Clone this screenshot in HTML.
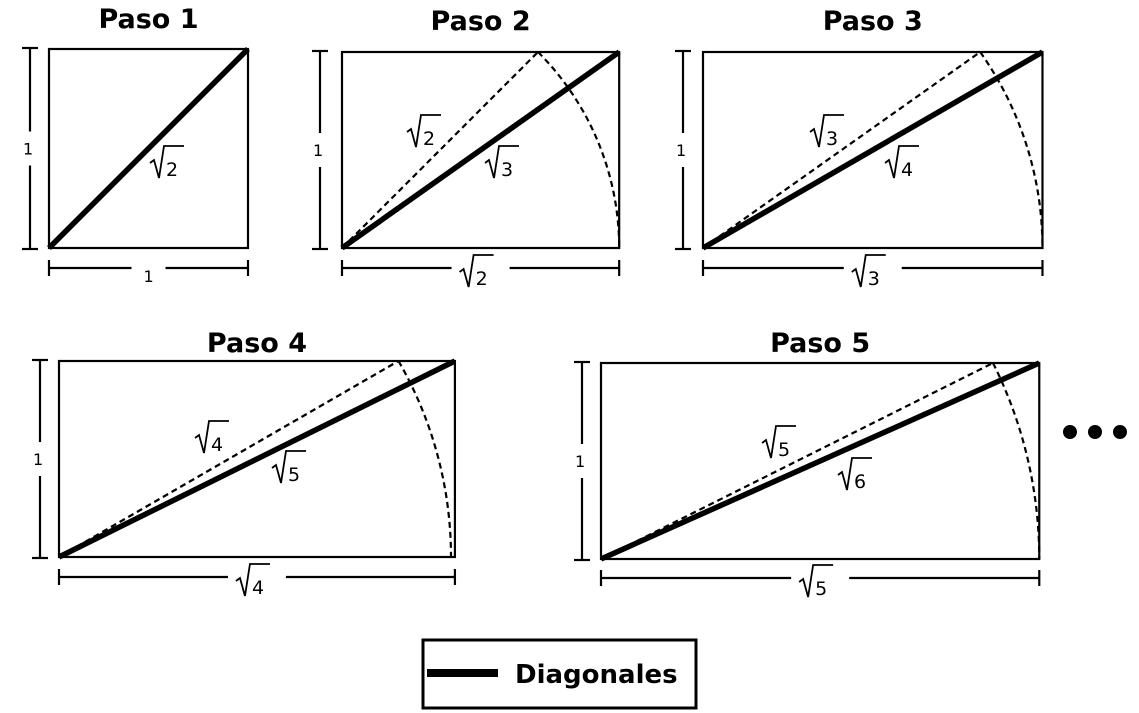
<!DOCTYPE html>
<html><head><meta charset="utf-8"><style>
html,body{margin:0;padding:0;background:#fff;}
svg{display:block;font-family:"DejaVu Sans","Liberation Sans",sans-serif;}
</style></head><body>
<svg id="c" width="1139" height="713" viewBox="0 0 1139 713">
<g id="panels"></g>
<g>
<circle cx="1070" cy="432" r="7" fill="#000"/><circle cx="1095" cy="432" r="7" fill="#000"/><circle cx="1120" cy="432" r="7" fill="#000"/>
</g>
<g>
<rect x="423" y="640" width="273" height="68" fill="#fff" stroke="#000" stroke-width="3"/>
<line x1="427" y1="673" x2="498" y2="673" stroke="#000" stroke-width="8"/>
<text x="515" y="683" font-size="26" font-weight="bold">Diagonales</text>
</g>
</svg>
<script>
const steps = [1, 2, 3, 4, 5];
const stepTitles = ["Paso 1", "Paso 2", "Paso 3", "Paso 4", "Paso 5"];
const boxes = [
  {x0:49,y0:49,y1:248,dx:30,by:268,ty:28, dl:[0,0], sl:[150,176]},
  {x0:342,y0:52,y1:248,dx:320,by:268,ty:30, dl:[407,145], sl:[485,176]},
  {x0:703,y0:52,y1:248,dx:683,by:268,ty:30, dl:[810,145], sl:[885,176]},
  {x0:59,y0:361,y1:557,dx:40,by:577,ty:352, dl:[195,451], sl:[272,481]},
  {x0:601,y0:363,y1:559,dx:582,by:578,ty:352, dl:[762,456], sl:[838,488]}
];
const NS="http://www.w3.org/2000/svg";
const root=document.getElementById('panels');
function mk(tag,attrs,parent){const e=document.createElementNS(NS,tag);for(const k in attrs)e.setAttribute(k,attrs[k]);parent.appendChild(e);return e;}
function sqrtLabel(g,x,y,n,name){
  const p=mk('path',{d:`M${x},${y-13} L${x+4},${y-16} L${x+9},${y+2} L${x+14},${y-30} L${x+34},${y-30}`,fill:'none',stroke:'#000','stroke-width':1.8,'stroke-linejoin':'miter'},g);
  
  
  const t2=mk('text',{x:x+16,y:y,'font-size':19},g);
  
  
  t2.textContent=String(n);
}
steps.forEach((n,i)=>{
  const b=boxes[i];
  const h=b.y1-b.y0;
  const w=h*Math.sqrt(n)*(n===4?1.01:1);
  const x1=b.x0+w;
  const g=mk('g',{},root);
  
  
  const tt=mk('text',{x:(b.x0+x1)/2,y:b.ty,'font-size':27,'font-weight':'bold','text-anchor':'middle'},g);
  
  
  tt.textContent=stepTitles[i];
  const r=mk('rect',{x:b.x0,y:b.y0,width:w,height:h,fill:'none',stroke:'#000','stroke-width':2.2},g);
  
  
  if(n>1){
    const px=b.x0+h*Math.sqrt(n-1);
    const dl=mk('line',{x1:b.x0,y1:b.y1,x2:px,y2:b.y0,stroke:'#000','stroke-width':2.2,'stroke-dasharray':'6,4'},g);
    
    
    const R=Math.hypot(px-b.x0,h);
    const arc=mk('path',{d:`M${px},${b.y0} A${R},${R} 0 0 1 ${b.x0+R},${b.y1}`,fill:'none',stroke:'#000','stroke-width':2.2,'stroke-dasharray':'6,4'},g);
    
    
    sqrtLabel(g,b.dl[0],b.dl[1],n,'previous-diagonal-label');
  }
  const sl=mk('line',{x1:b.x0,y1:b.y1,x2:x1,y2:b.y0,stroke:'#000','stroke-width':5.5},g);
  
  
  sqrtLabel(g,b.sl[0],b.sl[1],n+1,'diagonal-label');
  // left dimension
  const ym=(b.y0+b.y1)/2;
  mk('line',{x1:b.dx,y1:b.y0-1,x2:b.dx,y2:ym-17,stroke:'#000','stroke-width':2.2},g);
  mk('line',{x1:b.dx,y1:ym+17,x2:b.dx,y2:b.y1+1,stroke:'#000','stroke-width':2.2},g);
  mk('line',{x1:b.dx-8,y1:b.y0-1,x2:b.dx+8,y2:b.y0-1,stroke:'#000','stroke-width':2.2},g);
  mk('line',{x1:b.dx-8,y1:b.y1+1,x2:b.dx+8,y2:b.y1+1,stroke:'#000','stroke-width':2.2},g);
  const hl=mk('text',{x:b.dx-7,y:ym+6,'font-size':16},g);
  
  
  hl.textContent='1';
  // bottom dimension
  const xm=(b.x0+x1)/2;
  const gap=n===1?17:29;
  mk('line',{x1:b.x0,y1:b.by,x2:xm-gap,y2:b.by,stroke:'#000','stroke-width':2.2},g);
  mk('line',{x1:xm+gap,y1:b.by,x2:x1,y2:b.by,stroke:'#000','stroke-width':2.2},g);
  mk('line',{x1:b.x0,y1:b.by-8,x2:b.x0,y2:b.by+8,stroke:'#000','stroke-width':2.2},g);
  mk('line',{x1:x1,y1:b.by-8,x2:x1,y2:b.by+8,stroke:'#000','stroke-width':2.2},g);
  if(n===1){
    const wl=mk('text',{x:xm-5,y:b.by+14,'font-size':16},g);
    
    
    wl.textContent='1';
  } else {
    sqrtLabel(g,xm-21,b.by+17,n,'width-label');
  }
});
</script>
</body></html>
